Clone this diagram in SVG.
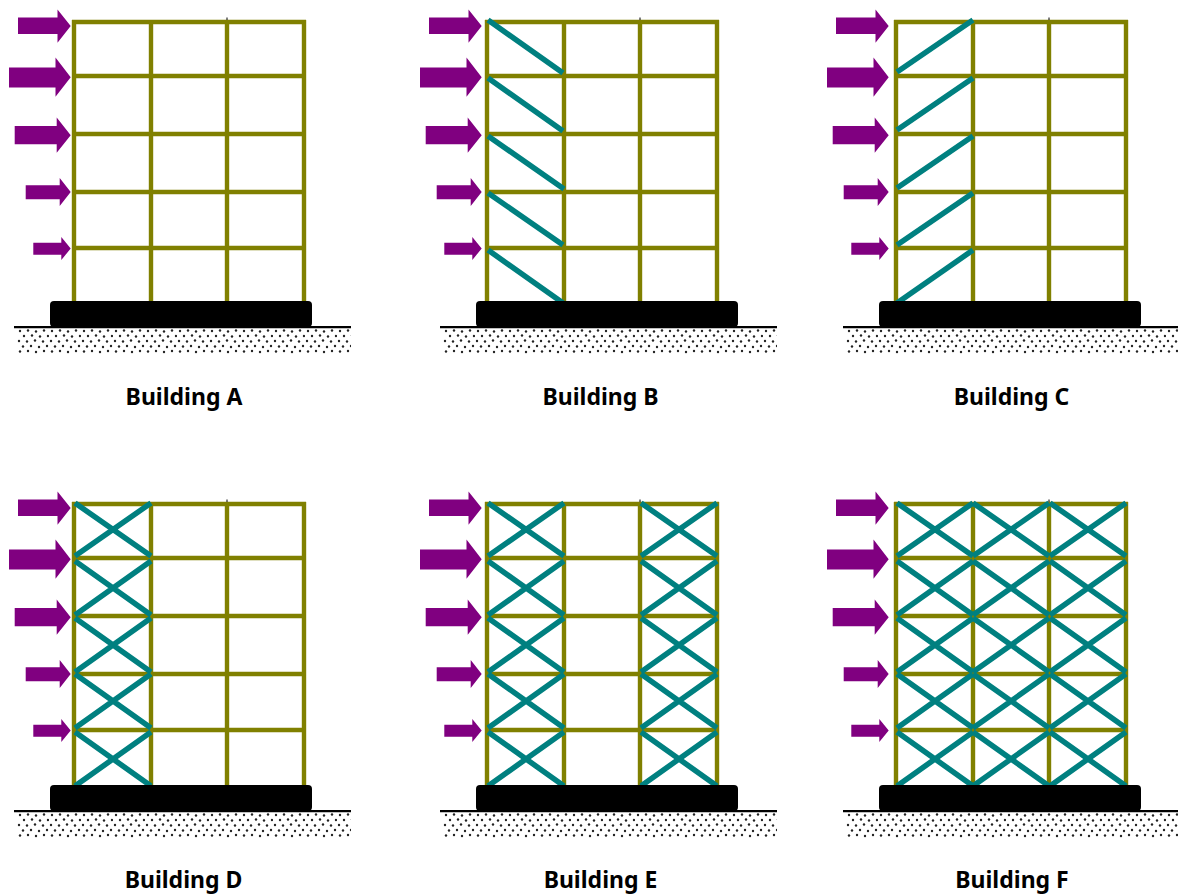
<svg xmlns="http://www.w3.org/2000/svg" width="1178" height="894" viewBox="0 0 1178 894">
<style>
.f{stroke:#808000;stroke-width:4.400;fill:none}
.b{stroke:#008080;stroke-width:5.500;fill:none}
.t{font-family:"Noto Sans","Open Sans",sans-serif;font-weight:700;font-size:23px;fill:#000;text-anchor:middle}
.a{fill:#800080}
</style>
<defs>
<pattern id="dots" x="17" y="329" width="32" height="25" patternUnits="userSpaceOnUse">
<g fill="#222"><circle cx="3" cy="2" r="1.200"/><circle cx="11" cy="1.500" r="1.200"/><circle cx="19" cy="2.500" r="1.200"/><circle cx="27" cy="1.500" r="1.200"/><circle cx="7" cy="7" r="1.200"/><circle cx="15" cy="6.500" r="1.200"/><circle cx="23" cy="7.500" r="1.200"/><circle cx="31" cy="7" r="1.200"/><circle cx="2" cy="12" r="1.200"/><circle cx="10" cy="12.500" r="1.200"/><circle cx="18" cy="11.500" r="1.200"/><circle cx="26" cy="12.500" r="1.200"/><circle cx="6" cy="17.500" r="1.200"/><circle cx="14" cy="17" r="1.200"/><circle cx="22" cy="18" r="1.200"/><circle cx="30" cy="17" r="1.200"/><circle cx="3" cy="22.500" r="1.200"/><circle cx="11" cy="22" r="1.200"/><circle cx="19" cy="23" r="1.200"/><circle cx="27" cy="22" r="1.200"/></g>
</pattern>
<g id="frame"><path class="f" d="M72 22H306M72 76H306M72 134H306M72 192H306M72 248H306M74 20V305M151 20V305M227 20V305M304 20V305"/><path d="M227 17.500V20" stroke="#000" stroke-width="1"/></g>
<g id="arrows" class="a">
<path d="M18 17.500H57.500V9.500L70.700 26L57.500 42.700V34H18Z"/>
<path d="M9 67.500H55.500V57.500L70.700 77.300L55.500 96.700V87.500H9Z"/>
<path d="M14.700 126H56.700V117.500L70.700 135.300L56.700 152.700V144.300H14.700Z"/>
<path d="M25.700 185.300H59.700V178L70.700 192L59.700 206V199.300H25.700Z"/>
<path d="M33.300 242.700H61.300V237L70.700 248.500L61.300 260V254.700H33.300Z"/>
</g>
<g id="base"><rect x="50" y="301" width="262" height="26" rx="4" fill="#000"/><path d="M14 327.200H351" stroke="#000" stroke-width="2.200"/><rect x="17" y="329" width="334" height="25" fill="url(#dots)"/></g>
<g id="xs"><path class="b" d="M0 503L76 556M0 556L76 503M0 561L76 615M0 615L76 561M0 618L76 672M0 672L76 618M0 674L76 728M0 728L76 674M0 732L76 786M0 786L76 732"/></g>
</defs>
<g id="building-a"><use href="#frame"/><use href="#base"/><use href="#arrows"/><text class="t" x="184" y="405">Building A</text></g>
<g id="building-b"><use href="#frame" x="413"/><path class="b" d="M488 20L563 73M488 78L563 131M488 136L564 189M488 193L563 245M488 250L563 303"/><use href="#base" x="426"/><use href="#arrows" x="411"/><text class="t" x="600.500" y="405">Building B</text></g>
<g id="building-c"><use href="#frame" x="822"/><path class="b" d="M897 72L973 20M897 130L973 78M897 188L973 136M897 245L973 193M897 303L973 250"/><use href="#base" x="829"/><use href="#arrows" x="818"/><text class="t" x="1011.500" y="405">Building C</text></g>
<g id="building-d"><use href="#frame" y="482"/><use href="#xs" x="75"/><use href="#base" y="484"/><use href="#arrows" y="482"/><text class="t" x="183.500" y="888">Building D</text></g>
<g id="building-e"><use href="#frame" x="413" y="482"/><use href="#xs" x="488"/><use href="#xs" x="641"/><use href="#base" x="426" y="484"/><use href="#arrows" x="411" y="482"/><text class="t" x="600.500" y="888">Building E</text></g>
<g id="building-f"><use href="#frame" x="822" y="482"/><use href="#xs" x="897"/><use href="#xs" x="973"/><use href="#xs" x="1050"/><use href="#base" x="829" y="484"/><use href="#arrows" x="818" y="482"/><text class="t" x="1012" y="888">Building F</text></g>
</svg>
